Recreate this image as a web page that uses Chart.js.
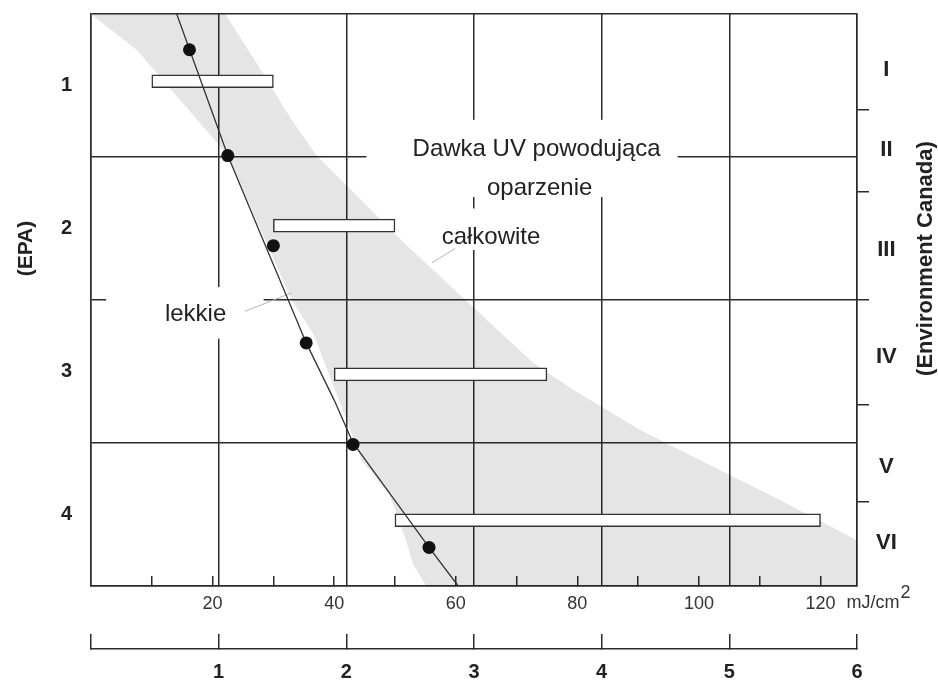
<!DOCTYPE html>
<html>
<head>
<meta charset="utf-8">
<script src="https://cdn.jsdelivr.net/npm/chart.js@4.4.0/dist/chart.umd.min.js"></script>
<style>
html,body{margin:0;padding:0;background:#fff}
#wrap{width:938px;height:681px}
</style>
</head>
<body>
<div id="wrap"><canvas id="c"></canvas></div>
<script>
const FONT = '"Liberation Sans", Arial, sans-serif';
const INK = '#2b2b2b';

// axes
const mjTicks = [10,20,30,40,50,60,70,80,90,100,110,120];
const medTicks = [0,1,2,3,4,5,6];
const epaTicks = [0.5,1,1.5,2,2.5,3,3.5,4,4.5];
const canadaLabels = ['I','II','III','IV','V','VI'];
const canadaMid = [0.89,1.45,2.15,2.90,3.67,4.20];
const canadaBounds = [1.17,1.74,2.50,3.23,3.91];

// measured dots, [mJ/cm2] vs EPA type
const dotsX = [16.2,22.5,30.0,35.4,43.1,55.6];
const dotsY = [0.75,1.49,2.12,2.80,3.51,4.23];
// fitted curve
const curveX = [14.1,22.5,28.7,35.4,40.0,43.1,55.6,60.4];
const curveY = [0.50,1.49,2.12,2.80,3.20,3.50,4.23,4.50];
// dose ranges per EPA type
const barFrom = [10,30,40,50];
const barTo = [30,50,75,120];
const barY = [0.97,1.98,3.02,4.04];
// grey band: left edge going down, right edge coming back up
const bandX = [0,7.5,20.3,22.5,33.0,36.6,41.7,44.5,49.1,51.8,53.0,55.1,
  126,126,113.4,100.2,90.4,79.4,72.8,66.9,51.0,37.1,33.0,26.9,22.1];
const bandY = [0.5,0.75,1.38,1.49,2.50,2.74,3.30,3.62,3.86,4.18,4.35,4.50,
  4.50,4.18,3.90,3.62,3.41,3.13,2.94,2.71,2.08,1.49,1.24,0.82,0.50];
// leader lines of the two notes
const leadTotX = [56.1,59.9], leadTotY = [2.24,2.14];
const leadLightX = [25.3,33.0], leadLightY = [2.58,2.45];

const notes = [
  {t:'Dawka UV powodująca', x:73.3, y:1.45},
  {t:'oparzenie', x:73.8, y:1.72},
  {t:'całkowite', x:65.8, y:2.06},
  {t:'lekkie', x:17.2, y:2.60}
];
const noteBoxes = [[45.3,96.5,1.24,1.78],[56.8,74.8,1.86,2.15],[2.5,28.4,2.41,2.77]];

const pts = (xs,ys)=>xs.map((x,i)=>({x, y:ys[i]}));
const noPad = s=>{s.paddingTop=0; s.paddingBottom=0;};

const notesPlugin = {
  id:'notes',
  beforeDatasetsDraw(chart){
    const {ctx, scales:{x2, y}} = chart;
    ctx.save(); ctx.fillStyle = '#fff';
    noteBoxes.forEach(b=>{
      const l=x2.getPixelForValue(b[0]), r=x2.getPixelForValue(b[1]);
      const t=y.getPixelForValue(b[2]), bt=y.getPixelForValue(b[3]);
      ctx.fillRect(l, t, r-l, bt-t);
    });
    ctx.restore();
  },
  afterDraw(chart){
    const {ctx, scales:{x2, y}} = chart;
    ctx.save();
    ctx.fillStyle = '#222'; ctx.textBaseline = 'middle'; ctx.textAlign = 'center';
    ctx.font = '24px ' + FONT;
    notes.forEach(n=>ctx.fillText(n.t, x2.getPixelForValue(n.x), y.getPixelForValue(n.y)));
    // unit of the dose axis
    ctx.font = '18px ' + FONT; ctx.textAlign = 'left'; ctx.fillStyle = '#333';
    const ux = x2.getPixelForValue(120) + 26, uy = x2.top + 17;
    ctx.fillText('mJ/cm', ux, uy);
    ctx.fillText('2', ux + ctx.measureText('mJ/cm').width + 1, uy - 10);
    // rotated axis titles
    ctx.fillStyle = '#222'; ctx.textAlign = 'center';
    ctx.save(); ctx.font = 'bold 21px ' + FONT;
    ctx.translate(26, y.getPixelForValue(2.14)); ctx.rotate(-Math.PI/2);
    ctx.fillText('(EPA)', 0, 0); ctx.restore();
    ctx.save(); ctx.font = 'bold 22px ' + FONT;
    ctx.translate(926, y.getPixelForValue(2.21)); ctx.rotate(-Math.PI/2);
    ctx.fillText('(Environment Canada)', 0, 0); ctx.restore();
    ctx.restore();
  }
};

Chart.defaults.font.family = FONT;

new Chart(document.getElementById('c'), {
  type:'line',
  data:{datasets:[
    {data:pts(dotsX,dotsY), xAxisID:'x2', yAxisID:'y', showLine:false,
     pointRadius:6.5, pointBackgroundColor:'#111', pointBorderWidth:0, order:0},
    {data:pts(curveX,curveY), xAxisID:'x2', yAxisID:'y', borderColor:'#333',
     borderWidth:1.3, pointRadius:0, tension:0, order:1},
    {data:pts(leadTotX,leadTotY), xAxisID:'x2', yAxisID:'y', borderColor:'#b5b5b5',
     borderWidth:1, pointRadius:0, order:1},
    {data:pts(leadLightX,leadLightY), xAxisID:'x2', yAxisID:'y', borderColor:'#b5b5b5',
     borderWidth:1, pointRadius:0, order:1},
    {type:'bar', indexAxis:'y', xAxisID:'x2', yAxisID:'y',
     data:barY.map((v,i)=>({x:[barFrom[i],barTo[i]], y:v})),
     backgroundColor:'#fff', borderColor:'#333', borderWidth:1.5, borderSkipped:false,
     barThickness:13, order:2},
    {data:pts(bandX,bandY), xAxisID:'x2', yAxisID:'y', fill:'shape',
     backgroundColor:'rgba(0,0,0,0.1)', borderColor:'rgba(0,0,0,0)', borderWidth:0,
     pointRadius:0, order:3}
  ]},
  options:{
    responsive:true, maintainAspectRatio:false, animation:false, events:[],
    layout:{padding:{top:14, left:0, right:0, bottom:0}},
    plugins:{legend:{display:false}, tooltip:{enabled:false}},
    scales:{
      y:{type:'linear', position:'left', reverse:true, min:0.5, max:4.5, offset:false,
        afterBuildTicks:s=>{s.ticks=epaTicks.map(v=>({value:v}));},
        afterFit:s=>{s.width=91; noPad(s);},
        grid:{offset:false, drawTicks:false, lineWidth:1.5,
          color:c=>(c.tick && Number.isInteger(c.tick.value))?'rgba(0,0,0,0)':INK},
        border:{display:true, color:INK, width:1.5},
        ticks:{autoSkip:false, padding:19, color:'#222',
          font:{size:20, weight:'bold'}, callback:v=>Number.isInteger(v)?v:''}},
      y2:{type:'linear', position:'right', reverse:true, min:0.5, max:4.5, offset:false,
        afterBuildTicks:s=>{s.ticks=canadaMid.concat(canadaBounds).map(v=>({value:v}));},
        afterFit:s=>{s.width=81; noPad(s);},
        grid:{offset:false, drawOnChartArea:false, tickLength:12, lineWidth:1.5,
          tickColor:c=>c.index<canadaMid.length?'rgba(0,0,0,0)':INK},
        border:{display:true, color:INK, width:1.5},
        ticks:{autoSkip:false, padding:7, crossAlign:'center', color:'#222',
          font:{size:22, weight:'bold'}, callback:(v,i)=>canadaLabels[i]||''}},
      x2:{type:'linear', position:'bottom', weight:0, min:0, max:126, offset:false,
        afterBuildTicks:s=>{s.ticks=mjTicks.map(v=>({value:v}));},
        afterFit:s=>{s.height=63;},
        grid:{offset:false, drawOnChartArea:false, tickLength:-10, lineWidth:1.5, color:INK},
        border:{display:true, color:INK, width:1.5},
        ticks:{autoSkip:false, maxRotation:0, padding:17, color:'#333',
          font:{size:18}, callback:v=>v%20===0?v:''}},
      x:{type:'linear', position:'bottom', weight:1, min:0, max:6, offset:false,
        afterBuildTicks:s=>{s.ticks=medTicks.map(v=>({value:v}));},
        afterFit:s=>{s.height=32;},
        grid:{offset:false, tickLength:-15, lineWidth:1.5, color:INK},
        border:{display:true, color:INK, width:1.5},
        ticks:{autoSkip:false, maxRotation:0, padding:26, color:'#222',
          font:{size:20, weight:'bold'}, callback:v=>v===0?'':v}}
    }
  },
  plugins:[notesPlugin]
});
</script>
</body>
</html>
